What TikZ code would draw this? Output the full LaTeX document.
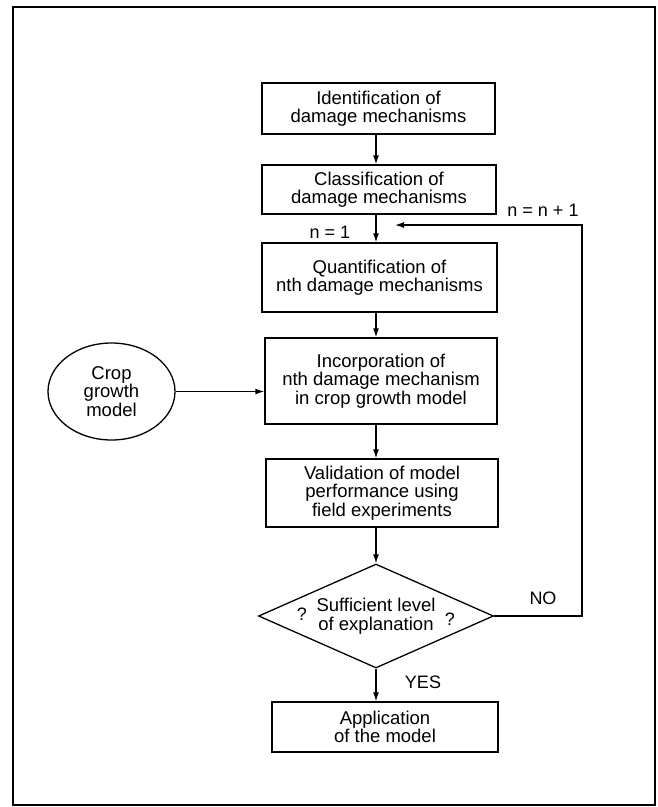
\documentclass[tikz,border=0pt]{standalone}
\usepackage{fontspec}
\setmainfont{Liberation Sans}
\usetikzlibrary{shapes.geometric,arrows.meta}
\begin{document}
\begin{tikzpicture}[x=1pt,y=-1pt,
  every node/.style={font=\fontsize{18.5}{18.5}\selectfont, inner sep=0pt},
  procbox/.style={draw, line width=1.3pt, rectangle, align=center},
  lbl/.style={font=\fontsize{18}{18}\selectfont},
  conn/.style={line width=1.3pt, -{Latex[length=9pt,width=6pt]}},
  plain/.style={line width=1.3pt}]
\useasboundingbox (0,0) rectangle (657,807);
\draw[line width=1.5pt] (13,7) rectangle (655,805);

\node[procbox, minimum width=233pt, minimum height=51pt] (b1) at (378.5,108.5) {Identification of\\damage mechanisms};
\node[procbox, minimum width=234pt, minimum height=49pt] (b2) at (379,189.5) {Classification of\\damage mechanisms};
\node[procbox, minimum width=235pt, minimum height=69pt] (b3) at (379.5,277.5) {Quantification of\\nth damage mechanisms};
\node[procbox, minimum width=232pt, minimum height=86pt] (b4) at (381,381) {Incorporation of\\nth damage mechanism\\in crop growth model};
\node[procbox, minimum width=232pt, minimum height=68pt] (b5) at (382,493) {Validation of model\\performance using\\field experiments};
\node[draw, line width=1.3pt, diamond, aspect=2.2, minimum width=235pt, minimum height=104pt, align=center] (d) at (376,616) {};
\node[align=center] (dt) at (376,616) {Sufficient level\\of explanation};
\node[lbl] (q1) at (302,614) {?};
\node[lbl] (q2) at (450,619) {?};
\node[procbox, minimum width=226pt, minimum height=50pt] (b6) at (385,727) {Application\\of the model};
\node[draw, line width=1.3pt, ellipse, minimum width=127pt, minimum height=97pt, align=center] (cg) at (111.5,391.5) {Crop\\growth\\model};

\node[lbl] (n1) at (330,232) {n = 1};
\node[lbl] (nn) at (543,210) {n = n + 1};
\node[lbl] (no) at (543,598) {NO};
\node[lbl] (yes) at (423,682) {YES};

\draw[conn] (b1.south -| d.north) -- (b2.north -| d.north);
\draw[conn] (b2.south -| d.north) -- (b3.north -| d.north);
\draw[conn] (b3.south -| d.north) -- (b4.north -| d.north);
\draw[conn] (b4.south -| d.north) -- (b5.north -| d.north);
\draw[conn] (b5.south -| d.north) -- (d.north);
\draw[conn] (d.south) -- (b6.north -| d.south);
\draw[conn] (cg.east) -- (b4.west |- cg.east);
\coordinate (loopend) at (395,225);
\draw[conn] (d.east) -- (582,0 |- d.east) -- (582,225) -- (loopend);
\end{tikzpicture}
\end{document}
